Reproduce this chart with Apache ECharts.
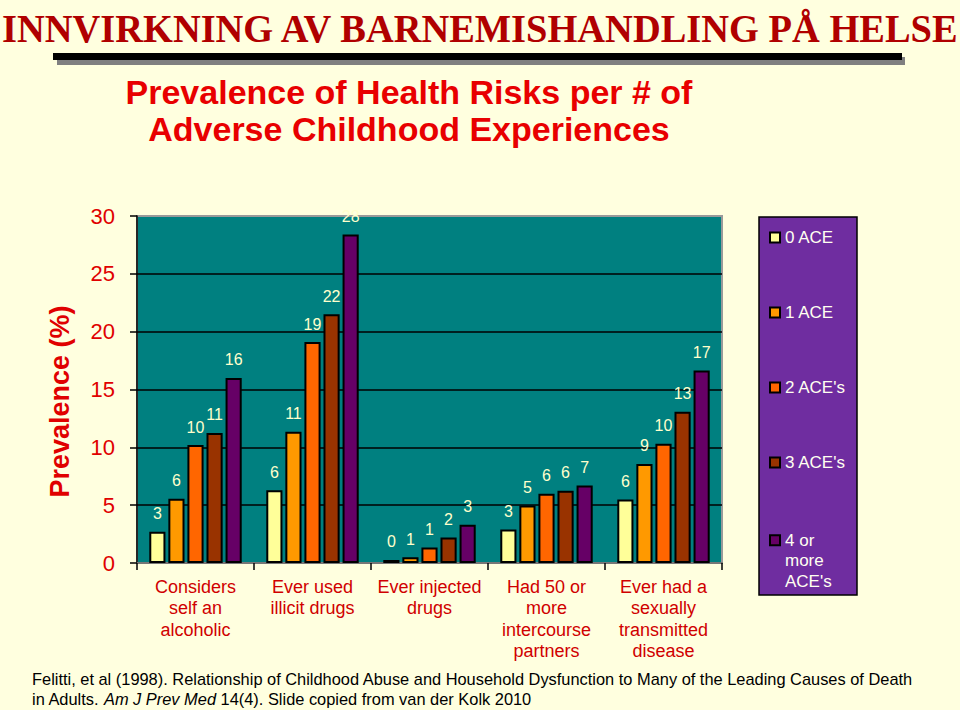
<!DOCTYPE html>
<html>
<head>
<meta charset="utf-8">
<script src="https://cdn.jsdelivr.net/npm/echarts@6/dist/echarts.min.js"></script>
<style>
html,body{margin:0;padding:0;background:#FFFFDF;}
#chart{width:960px;height:710px;}
</style>
</head>
<body>
<div id="chart"></div>
<script>
const categories = [
  'Considers\nself an\nalcoholic',
  'Ever used\nillicit drugs',
  'Ever injected\ndrugs',
  'Had 50 or\nmore\nintercourse\npartners',
  'Ever had a\nsexually\ntransmitted\ndisease'
];
const seriesNames = ['0 ACE', '1 ACE', "2 ACE's", "3 ACE's", "4 or more ACE's"];
const ace0 = [2.7, 6.3, 0.26, 2.9, 5.5];
const ace1 = [5.55, 11.35, 0.5, 4.97, 8.56];
const ace2 = [10.2, 19.1, 1.33, 5.98, 10.3];
const ace3 = [11.25, 21.5, 2.2, 6.24, 13.07];
const ace4 = [16.0, 28.4, 3.3, 6.7, 16.65];
const yTicks = [0, 5, 10, 15, 20, 25, 30];

const seriesValues = [ace0, ace1, ace2, ace3, ace4];
const colors = ['#FFFF99', '#FF9900', '#FF6600', '#993300', '#660066'];
const FONT = "'Liberation Sans', Arial, sans-serif";

const chart = echarts.init(document.getElementById('chart'), null, {renderer: 'svg'});

const series = seriesNames.map((name, i) => ({
  name: name,
  type: 'bar',
  data: seriesValues[i],
  barGap: '18%',
  barCategoryGap: '21%',
  itemStyle: {color: colors[i], borderColor: '#000', borderWidth: 2},
  label: {
    show: true,
    position: 'top',
    distance: 10,
    color: '#FFFFCC',
    fontSize: 16,
    fontFamily: FONT,
    formatter: p => String(Math.round(p.value))
  }
}));

const option = {
  backgroundColor: '#FFFFDF',
  animation: false,
  textStyle: {fontFamily: FONT},
  grid: {
    left: 137, right: 238, top: 216, bottom: 147,
    show: true, backgroundColor: '#008080', borderColor: '#9a9a9a', borderWidth: 2
  },
  xAxis: {
    type: 'category',
    data: categories,
    axisLine: {lineStyle: {color: '#777', width: 2}},
    axisTick: {show: true, length: 7, lineStyle: {color: '#000', width: 1.5}},
    axisLabel: {interval: 0, color: '#D00000', fontSize: 18, lineHeight: 21.5, margin: 13, fontFamily: FONT}
  },
  yAxis: {
    type: 'value',
    min: yTicks[0], max: yTicks[yTicks.length - 1], interval: 5,
    name: 'Prevalence (%)',
    nameLocation: 'middle',
    nameGap: 64,
    nameRotate: 90,
    nameTextStyle: {color: '#E00000', fontSize: 27, fontWeight: 'bold', fontFamily: FONT, padding: [0, 24, 0, 0]},
    axisLine: {show: true, lineStyle: {color: '#000', width: 1.5}},
    axisTick: {show: true, length: 7, lineStyle: {color: '#000', width: 1.5}},
    axisLabel: {color: '#E00000', fontSize: 22, margin: 22, fontFamily: FONT},
    splitLine: {show: true, showMinLine: false, showMaxLine: false, lineStyle: {color: '#000', width: 1.5}}
  },
  legend: [
    {
      data: seriesNames.slice(0, 4),
      orient: 'vertical',
      left: 764, top: 224,
      itemWidth: 10, itemHeight: 10, itemGap: 58,
      icon: 'rect',
      textStyle: {color: '#FFFFF0', fontSize: 17, fontFamily: FONT}
    },
    {
      data: [seriesNames[4]],
      orient: 'vertical',
      left: 764, top: 484,
      itemWidth: 10, itemHeight: 10,
      icon: 'rect',
      formatter: () => "\n\n4 or\nmore\nACE's",
      textStyle: {color: '#FFFFF0', fontSize: 17, lineHeight: 20.5, fontFamily: FONT}
    }
  ],
  graphic: [
    {type: 'rect', z: -1, shape: {x: 759, y: 217, width: 98, height: 378},
     style: {fill: '#6F2DA0', stroke: '#000', lineWidth: 1.5}},
    {type: 'text', x: 2, y: 28, scaleX: 0.986,
     style: {text: 'INNVIRKNING AV BARNEMISHANDLING PÅ HELSE', fill: '#B00000',
             font: "bold 39px 'Liberation Serif', 'Times New Roman', serif", align: 'left', verticalAlign: 'middle'}},
    {type: 'rect', shape: {x: 57, y: 57, width: 848, height: 8}, style: {fill: '#808080'}},
    {type: 'rect', shape: {x: 53, y: 53, width: 849, height: 7}, style: {fill: '#000'}},
    {type: 'text', x: 409, y: 92,
     style: {text: 'Prevalence of Health Risks per # of', fill: '#E80000',
             font: "bold 34px " + FONT, align: 'center', verticalAlign: 'middle'}},
    {type: 'text', x: 409, y: 129,
     style: {text: 'Adverse Childhood Experiences', fill: '#E80000',
             font: "bold 34px " + FONT, align: 'center', verticalAlign: 'middle'}},
    {type: 'text', x: 32, y: 679,
     style: {text: 'Felitti, et al (1998). Relationship of Childhood Abuse and Household Dysfunction to Many of the Leading Causes of Death',
             fill: '#000', font: "16.4px " + FONT, align: 'left', verticalAlign: 'middle'}},
    {type: 'text', x: 32, y: 699,
     style: {text: 'in Adults. {i|Am J Prev Med} 14(4). Slide copied from van der Kolk 2010',
             fill: '#000', font: "16.4px " + FONT, align: 'left', verticalAlign: 'middle',
             rich: {i: {fontStyle: 'italic', fontSize: 16.4, fontFamily: FONT, fill: '#000'}}}}
  ],
  series: series
};
chart.setOption(option);
</script>
</body>
</html>
